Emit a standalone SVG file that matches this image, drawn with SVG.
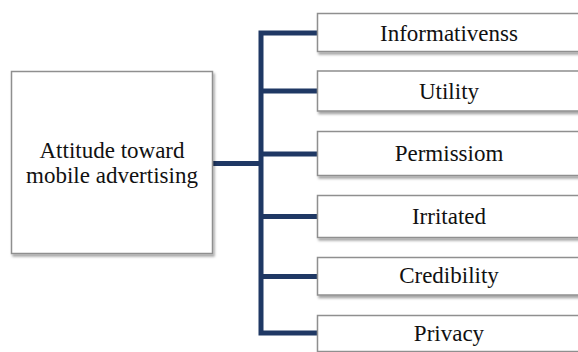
<svg xmlns="http://www.w3.org/2000/svg" width="578" height="352" viewBox="0 0 578 352">
  <defs>
    <filter id="shadow" x="-10%" y="-20%" width="120%" height="150%">
      <feDropShadow dx="1.5" dy="2.5" stdDeviation="1.2" flood-color="#000" flood-opacity="0.35"/>
    </filter>
  </defs>
  <style>
    .box { fill: #ffffff; stroke: #8f8f8f; stroke-width: 1.5; filter: url(#shadow); }
    .label { font-family: "Liberation Serif", "Times New Roman", serif; font-size: 23px; fill: #111111; text-anchor: middle; }
    .link { fill: none; stroke: #1f3864; stroke-width: 5; stroke-linejoin: miter; stroke-linecap: butt; }
  </style>
  <rect width="578" height="352" fill="#ffffff"/>

  <!-- connectors: trunk with branches to each factor -->
  <g id="connectors">
    <path class="link" d="M317,33 H261 V333 H317"/>
    <path class="link" d="M261,91 H317"/>
    <path class="link" d="M261,154 H317"/>
    <path class="link" d="M261,216.5 H317"/>
    <path class="link" d="M261,276.5 H317"/>
    <path class="link" d="M212,163.5 H261"/>
  </g>

  <g id="attitude">
    <rect class="box" x="11.5" y="71.5" width="201" height="182"/>
    <text class="label" x="112" y="158">Attitude toward</text>
    <text class="label" x="112" y="183">mobile advertising</text>
  </g>

  <g id="informativeness">
    <rect class="box" x="317.5" y="13.5" width="262" height="38"/>
    <text class="label" x="449" y="40.5">Informativenss</text>
  </g>

  <g id="utility">
    <rect class="box" x="317.5" y="71" width="262" height="40"/>
    <text class="label" x="449" y="99">Utility</text>
  </g>

  <g id="permission">
    <rect class="box" x="317.5" y="131.5" width="262" height="44"/>
    <text class="label" x="449" y="161">Permissiom</text>
  </g>

  <g id="irritated">
    <rect class="box" x="317.5" y="195.5" width="262" height="42"/>
    <text class="label" x="449" y="223.5">Irritated</text>
  </g>

  <g id="credibility">
    <rect class="box" x="317.5" y="257.5" width="262" height="37.5"/>
    <text class="label" x="449" y="283">Credibility</text>
  </g>

  <g id="privacy">
    <rect class="box" x="317.5" y="315.5" width="262" height="36"/>
    <text class="label" x="449" y="340.5">Privacy</text>
  </g>
</svg>
